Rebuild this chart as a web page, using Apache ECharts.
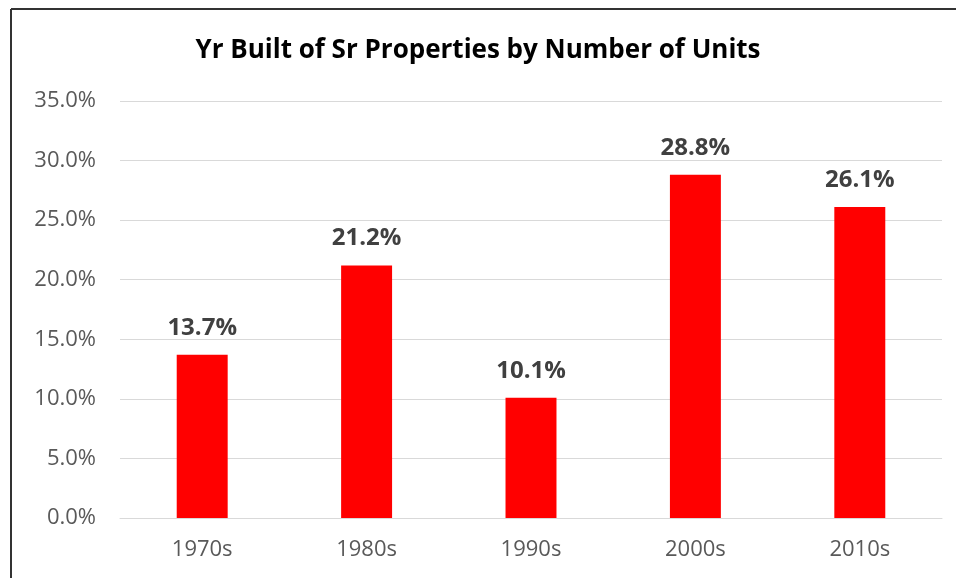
<!DOCTYPE html>
<html>
<head>
<meta charset="utf-8">
<script src="https://cdn.jsdelivr.net/npm/echarts@6/dist/echarts.min.js"></script>
<style>
  html, body { margin: 0; padding: 0; background: #fff; }
  #chart { width: 956px; height: 578px; }
</style>
</head>
<body>
<div id="chart"></div>
<script>
// 数据
var decades = ["1970s", "1980s", "1990s", "2000s", "2010s"];
var shares = [13.7, 21.2, 10.1, 28.8, 26.1];
var yTicks = [0, 5, 10, 15, 20, 25, 30, 35];

var myChart = echarts.init(document.getElementById("chart"));
var font = "'Open Sans', 'Noto Sans', sans-serif";

var option = {
  animation: false,
  backgroundColor: "#ffffff",
  //标题
  title: {
    text: "Yr Built of Sr Properties by Number of Units",
    left: "center",
    top: 33,
    textStyle: {
      fontFamily: font,
      fontSize: 26,
      fontWeight: "bold",
      color: "#000000",
    },
  },
  grid: {
    left: 120,
    right: 14,
    top: 101,
    bottom: 60,
  },
  //X轴
  xAxis: {
    type: "category",
    data: decades,
    axisTick: { show: false },
    axisLine: { lineStyle: { color: "#d9d9d9", width: 1 } },
    axisLabel: {
      margin: 21,
      fontFamily: font,
      fontSize: 22,
      color: "#595959",
    },
  },
  //y轴
  yAxis: {
    type: "value",
    min: yTicks[0],
    max: yTicks[yTicks.length - 1],
    interval: 5,
    axisLine: { show: false },
    axisTick: { show: false },
    splitLine: { lineStyle: { color: "#d9d9d9", width: 1 } },
    axisLabel: {
      margin: 24,
      fontFamily: font,
      fontSize: 22,
      color: "#595959",
      formatter: function (v) {
        return v.toFixed(1) + "%";
      },
    },
  },
  series: [
    {
      type: "bar",
      data: shares,
      barWidth: "31%",
      itemStyle: { color: "#ff0000" },
      label: {
        show: true,
        position: "top",
        distance: 15,
        fontFamily: font,
        fontSize: 24,
        fontWeight: "bold",
        color: "#404040",
        formatter: function (p) {
          return p.value.toFixed(1) + "%";
        },
      },
    },
  ],
  //边框
  graphic: [
    {
      type: "line",
      silent: true,
      shape: { x1: 11, y1: 9, x2: 956, y2: 9 },
      style: { stroke: "#333333", lineWidth: 2 },
    },
    {
      type: "line",
      silent: true,
      shape: { x1: 11, y1: 9, x2: 11, y2: 578 },
      style: { stroke: "#333333", lineWidth: 2 },
    },
  ],
};

myChart.setOption(option);
</script>
</body>
</html>
